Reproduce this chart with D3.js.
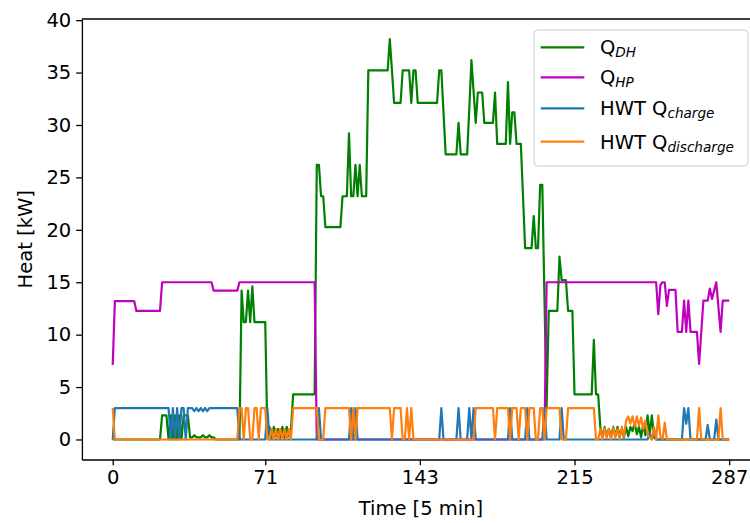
<!DOCTYPE html>
<html><head><meta charset="utf-8">
<script src="https://cdn.jsdelivr.net/npm/d3@7"></script>
<style>body{margin:0;background:#fff}svg{display:block}text{font-family:"DejaVu Sans",sans-serif}</style>
</head><body><svg id="c" width="750" height="523"></svg>
<script>
const xTicks=[0,71,143,215,287];
const yTicks=[0,5,10,15,20,25,30,35,40];
const xLabel="Time [5 min]";
const yLabel="Heat [kW]";
const legendLabels=[["Q","DH"],["Q","HP"],["HWT Q","charge"],["HWT Q","discharge"]];
const colors=["#008000","#bf00bf","#1f77b4","#ff7f0e"];

const qDH=[
0,0,0,0,0,0,0,0,0,0,
0,0,0,0,0,0,0,0,0,0,
0,0,0,2.3,2.3,2.3,0,2.3,0,2.3,
0,2.3,0,2.3,2.3,2.3,0.2,0.2,0.4,0.2,
0.2,0.2,0.4,0.2,0.2,0.4,0.2,0.2,0,0,
0,0,0,0,0,0,0,0,0,0,
14.2,11.2,11.2,14.2,11.2,14.6,11.2,11.2,11.2,11.2,
11.2,11.2,0.5,1.2,0.2,1.2,0.3,1.0,0.2,1.2,
0.2,1.2,0.3,1.0,4.3,4.3,4.3,4.3,4.3,4.3,
4.3,4.3,4.3,4.3,4.3,26.2,26.2,23.2,23.2,20.25,
20.25,20.25,20.25,20.25,20.25,20.25,20.25,23.2,23.2,23.2,
29.2,23.2,23.2,26.2,23.2,26.2,23.2,23.2,23.2,35.2,
35.2,35.2,35.2,35.2,35.2,35.2,35.2,35.2,35.2,38.2,
35.2,32.1,32.1,32.1,32.1,35.2,35.2,35.2,35.2,32.1,
35.2,35.2,32.1,32.1,32.1,32.1,32.1,32.1,32.1,32.1,
32.1,32.1,35.2,35.2,31.2,27.2,27.2,27.2,27.2,27.2,
27.2,30.2,27.2,27.2,27.2,27.2,31.5,36.2,33.2,30.2,
33.1,33.1,33.1,30.2,30.2,30.2,30.2,30.2,33.1,28.2,
28.2,28.2,28.2,28.2,34.1,28.2,31.2,31.2,28.2,28.2,
28.2,23.3,18.25,18.25,18.25,18.25,21.3,18.25,18.25,24.3,
24.3,13.5,3.1,12.26,12.26,12.26,12.26,12.26,17.45,15.2,
15.2,15.2,12.26,12.26,12.26,4.3,4.3,4.3,4.3,4.3,
4.3,4.3,4.3,4.3,9.5,4.3,4.3,1.2,0.2,1.2,
0.3,1.0,0.2,1.2,0.3,1.2,0.4,1.0,0.2,1.2,
0.3,1.2,0.8,1.6,0.5,1.2,0.2,1.5,0.4,2.3,
0.5,2.3,0.2,0,0,0,0,0,0,0,
0,0,0,0,0,0,0,0,0,0,
0,0,0,0,0,0,0,0,0,0,
0,0,0,0,0,0,0,0];

const qHP=[
7.1,13.2,13.2,13.2,13.2,13.2,13.2,13.2,13.2,13.2,
13.2,12.26,12.26,12.26,12.26,12.26,12.26,12.26,12.26,12.26,
12.26,12.26,12.26,15,15,15,15,15,15,15,
15,15,15,15,15,15,15,15,15,15,
15,15,15,15,15,15,15,14.2,14.2,14.2,
14.2,14.2,14.2,14.2,14.2,14.2,14.2,14.2,14.2,15,
15,15,15,15,15,15,15,15,15,15,
15,15,15,15,15,15,15,15,15,15,
15,15,15,15,15,15,15,15,15,15,
15,15,15,15,15,0,0,0,0,0,
0,0,0,0,0,0,0,0,0,0,
0,0,0,0,0,0,0,0,0,0,
0,0,0,0,0,0,0,0,0,0,
0,0,0,0,0,0,0,0,0,0,
0,0,0,0,0,0,0,0,0,0,
0,0,0,0,0,0,0,0,0,0,
0,0,0,0,0,0,0,0,0,0,
0,0,0,0,0,0,0,0,0,0,
0,0,0,0,0,0,0,0,0,0,
0,0,0,0,0,0,0,0,0,0,
0,0,15,15,15,15,15,15,15,15,
15,15,15,15,15,15,15,15,15,15,
15,15,15,15,15,15,15,15,15,15,
15,15,15,15,15,15,15,15,15,15,
15,15,15,15,15,15,15,15,15,15,
15,15,15,15,11.95,14.74,15,15,12.74,14.27,
14.27,14.27,14.27,10.26,10.26,10.26,13.25,10.26,13.25,10.26,
10.26,10.26,10.26,7.2,10.2,13.25,13.25,13.25,14.4,13.4,
14.2,15,12.6,10.26,13.25,13.25,13.25,13.25];

const hwtCharge=[
0,3,3,3,3,3,3,3,3,3,
3,3,3,3,3,3,3,3,3,3,
3,3,3,3,3,3,3,0,3,0,
3,0,3,3,0,3,3,3,2.7,3,
2.7,3,2.7,3,2.7,3,3,3,3,3,
3,3,3,3,3,3,3,3,3,0,
0,0,0,0,0,0,0,0,0,0,
0,0,3,0,0,0,0,0,0,0,
0,0,0,0,0,0,0,0,0,0,
0,0,0,0,0,0,3,0,0,0,
0,0,0,0,0,0,0,0,0,0,
0,3,0,3,0,0,0,0,0,0,
0,0,0,0,0,0,0,0,0,0,
0,0,0,0,0,0,0,0,0,0,
0,0,0,0,0,0,0,0,0,0,
0,0,0,3,0,0,0,0,0,0,
0,3,0,0,0,0,3,0,3,0,
0,0,0,0,0,0,0,0,0,0,
0,0,0,0,0,3,0,0,0,0,
0,0,0,3,0,0,0,0,0,0,
0,3,0,0,0,0,0,0,0,3,
0,0,0,0,0,0,0,0,0,0,
0,0,0,0,0,0,0,0,0,0,
0,0,0,0,0,0,0,0,0,0,
0,0,0,0,0,0,0,0,0,0,
0.6,0,0.8,0,0,0,0,0,0,0,
0,0,0,0,0,0,3,1.5,3,0,
0,0,0,0,0,0,0,1.4,0,0,
0,1.9,0,0,0,0,0,0];

const hwtDischarge=[
3,0,0,0,0,0,0,0,0,0,
0,0,0,0,0,0,0,0,0,0,
0,0,0,0,0,0,0,0,0,0,
0,0,0,0,0,0,0,0,0,0,
0,0,0,0,0,0,0,0,0,0,
0,0,0,0,0,0,0,0,0,3,
3,0,3,3,0,0,3,3,0,3,
3,3,0,0,1,0,1,0,1,0,
1,0,1,0,3,3,3,3,3,3,
3,3,3,3,3,3,0,0,0,3,
3,3,3,3,3,3,3,3,3,3,
3,0,3,0,3,3,3,3,3,3,
3,3,3,3,3,3,3,3,3,3,
0,3,3,3,3,0,0,3,0,3,
0,0,0,0,0,0,0,0,0,0,
0,0,0,0,0,0,0,0,0,0,
0,0,0,0,0,0,0,0,0,3,
3,3,3,3,3,3,3,3,0,3,
3,3,3,3,3,0,3,3,3,0,
3,3,3,0,3,3,3,0,0,3,
3,0,3,3,3,3,3,3,3,0,
0,0,3,3,3,3,3,3,3,3,
3,3,3,3,3,0,0,1.0,0,1.1,
0.2,1.0,0,1.1,0.2,1.0,0,1.2,0.3,1.8,
2.2,1.5,2.2,1.2,2.2,1.3,2.1,1.0,1.8,0.5,
0.2,0,1.2,0,2.3,0.3,0,1.6,0,0,
0,0,0,0,0,0,0,0,0,0,
0,0,0,3,0,0,0,0,0,0,
0,0,0,3,0,0,0,0];

const seriesList=[qDH,qHP,hwtCharge,hwtDischarge];

const svg=d3.select("#c");
const pL=81.9,pR=760,pT=19,pB=459.5;
const x=d3.scaleLinear().domain([-14.35,301.35]).range([pL,pR]);
const y=d3.scaleLinear().domain([-1.91,40.11]).range([pB,pT]);

svg.append("clipPath").attr("id","pc").append("rect")
  .attr("x",pL).attr("y",pT).attr("width",pR-pL).attr("height",pB-pT);

const line=d3.line().x((d,i)=>x(i)).y(d=>y(d));
const plot=svg.append("g").attr("clip-path","url(#pc)");
seriesList.forEach((s,k)=>{
  plot.append("path").datum(s).attr("d",line)
    .attr("fill","none").attr("stroke",colors[k]).attr("stroke-width",2.2)
    .attr("stroke-linejoin","round").attr("stroke-linecap","butt");
});

const fs="19.5px";
const xa=svg.append("g").attr("transform",`translate(0,${pB})`)
  .call(d3.axisBottom(x).tickValues(xTicks).tickSize(5.7).tickSizeOuter(0).tickPadding(5).tickFormat(d3.format("d")));
const ya=svg.append("g").attr("transform",`translate(${pL},0)`)
  .call(d3.axisLeft(y).tickValues(yTicks).tickSize(5.7).tickSizeOuter(0).tickPadding(5).tickFormat(d3.format("d")));
[xa,ya].forEach(a=>{
  a.select(".domain").attr("stroke","#000").attr("stroke-width",1.3);
  a.selectAll(".tick line").attr("stroke","#000").attr("stroke-width",1.3);
  a.selectAll(".tick text").attr("fill","#000").style("font-size",fs).style("font-family","DejaVu Sans");
});
svg.append("line").attr("x1",pL).attr("x2",pR).attr("y1",pT).attr("y2",pT)
  .attr("stroke","#000").attr("stroke-width",1.3);

svg.append("text").attr("x",x(143.5)).attr("y",515).attr("text-anchor","middle")
  .style("font-size",fs).text(xLabel);
svg.append("text").attr("transform",`translate(32,${(pT+pB)/2}) rotate(-90)`)
  .attr("text-anchor","middle").style("font-size",fs).text(yLabel);

const lg=svg.append("g");
lg.append("rect").attr("x",534).attr("y",30).attr("width",214).attr("height",136).attr("rx",4)
  .attr("fill","#fff").attr("fill-opacity",0.8).attr("stroke","#cccccc").attr("stroke-width",1);
const rowY=[47.3,77.3,108.3,141.7];
legendLabels.forEach((lab,k)=>{
  lg.append("line").attr("x1",540.7).attr("x2",584.3).attr("y1",rowY[k]).attr("y2",rowY[k])
    .attr("stroke",colors[k]).attr("stroke-width",2.2);
  const t=lg.append("text").attr("x",600).attr("y",rowY[k]+7).style("font-size",fs);
  t.append("tspan").text(lab[0]);
  t.append("tspan").attr("dy",3).style("font-size","13.6px").style("font-style","italic").text(lab[1]);
});
</script></body></html>
